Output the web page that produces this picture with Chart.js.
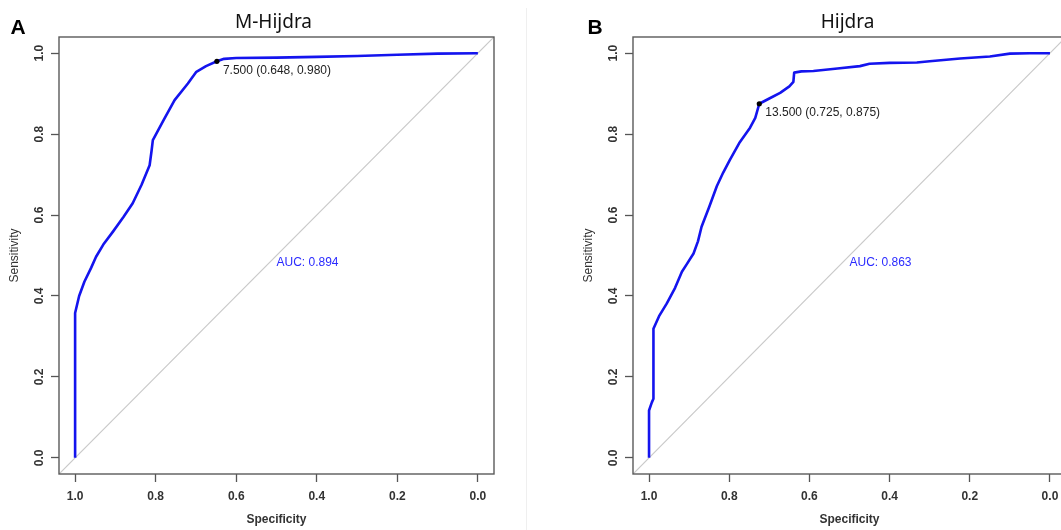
<!DOCTYPE html>
<html><head><meta charset="utf-8">
<script src="https://cdn.jsdelivr.net/npm/chart.js@4.4.1/dist/chart.umd.min.js"></script>
<style>
html,body{margin:0;padding:0;overflow:hidden;background:#fff;width:1061px;height:530px;position:relative;}
#ca{position:absolute;left:0;top:0;}
#cb{position:absolute;left:527px;top:0;}
#sep{position:absolute;left:526px;top:8px;width:1px;height:522px;background:#efefef;}
</style></head><body>
<canvas id="ca" width="527" height="530"></canvas>
<div id="sep"></div>
<canvas id="cb" width="560" height="530"></canvas>
<script>
// ---- data ----
const tickValues = [0, 0.2, 0.4, 0.6, 0.8, 1.0];
const diagSpec = [1.04, -0.04];
const diagSens = [-0.04, 1.04];

const panelLetters = ['A', 'B'];
const panelTitles = ['M-Hijdra', 'Hijdra'];

const specA = [1.0, 1.0, 0.99, 0.977, 0.96, 0.948, 0.93, 0.906, 0.88, 0.857, 0.835, 0.815, 0.81, 0.807, 0.78, 0.753, 0.72, 0.699, 0.675, 0.648, 0.63, 0.6, 0.5, 0.4, 0.3, 0.2, 0.1, 0.0];
const sensA = [0.0, 0.358, 0.40, 0.435, 0.47, 0.497, 0.527, 0.559, 0.595, 0.629, 0.675, 0.723, 0.76, 0.785, 0.835, 0.884, 0.925, 0.954, 0.968, 0.980, 0.986, 0.988, 0.989, 0.991, 0.993, 0.996, 0.999, 1.0];
const thresholdA = [0.648, 0.980];
const thresholdLabelA = '7.500 (0.648, 0.980)';
const aucLabelA = 'AUC: 0.894';

const specB = [1.0, 1.0, 0.993, 0.989, 0.989, 0.975, 0.956, 0.935, 0.918, 0.905, 0.889, 0.878, 0.869, 0.85, 0.831, 0.815, 0.798, 0.775, 0.748, 0.735, 0.725, 0.70, 0.673, 0.65, 0.640, 0.638, 0.62, 0.59, 0.53, 0.474, 0.45, 0.40, 0.332, 0.30, 0.224, 0.15, 0.10, 0.05, 0.0];
const sensB = [0.0, 0.117, 0.137, 0.146, 0.319, 0.35, 0.381, 0.42, 0.460, 0.48, 0.505, 0.535, 0.571, 0.62, 0.671, 0.705, 0.737, 0.778, 0.816, 0.84, 0.875, 0.888, 0.902, 0.918, 0.929, 0.952, 0.955, 0.956, 0.962, 0.968, 0.974, 0.976, 0.977, 0.980, 0.987, 0.992, 0.999, 1.0, 1.0];
const thresholdB = [0.725, 0.875];
const thresholdLabelB = '13.500 (0.725, 0.875)';
const aucLabelB = 'AUC: 0.863';

const aucPos = [0.5, 0.5];

// ---- helpers ----
const pts = (xs, ys) => xs.map((x, i) => ({x: x, y: ys[i]}));

function makePanel(id, spec, sens, thr, thrLabel, aucLabel, letter, title, pad, letterX, titleShift) {
  const decor = {
    id: 'decor' + id,
    afterDraw(chart) {
      const ctx = chart.ctx;
      const a = chart.chartArea;
      const xs = chart.scales.x, ys = chart.scales.y;
      ctx.save();
      // box
      ctx.strokeStyle = '#5a5a5a';
      ctx.lineWidth = 1.4;
      ctx.strokeRect(a.left, a.top, a.right - a.left, a.bottom - a.top);
      // threshold label
      const px = xs.getPixelForValue(thr[0]);
      const py = ys.getPixelForValue(thr[1]);
      ctx.fillStyle = '#222';
      ctx.font = '12px "Liberation Sans", Arial, sans-serif';
      ctx.textAlign = 'left';
      ctx.textBaseline = 'middle';
      ctx.fillText(thrLabel, px + 6, py + 9);
      // AUC
      ctx.fillStyle = '#2a2aff';
      ctx.textBaseline = 'top';
      ctx.fillText(aucLabel, xs.getPixelForValue(aucPos[0]), ys.getPixelForValue(aucPos[1]) + 1);
      // panel letter
      ctx.fillStyle = '#000';
      ctx.font = 'bold 21px "Liberation Sans", Arial, sans-serif';
      ctx.textAlign = 'center';
      ctx.textBaseline = 'middle';
      ctx.fillText(letter, letterX, 28);
      // title
      ctx.font = '19px "Noto Sans", sans-serif';
      ctx.fillStyle = '#111';
      ctx.fillText(title, (a.left + a.right) / 2 + titleShift, 23);
      ctx.restore();
    }
  };
  const tickFont = {family: '"Liberation Sans", Arial, sans-serif', size: 12, weight: 'bold'};
  const titleFont = {family: '"Liberation Sans", Arial, sans-serif', size: 12, weight: 'bold'};
  return new Chart(document.getElementById(id), {
    type: 'scatter',
    data: {
      datasets: [
        {data: pts(diagSpec, diagSens), showLine: true, borderColor: '#c9c9c9', borderWidth: 1.2, pointRadius: 0, order: 3},
        {data: pts(spec, sens), showLine: true, borderColor: '#1414ee', borderWidth: 2.6, pointRadius: 0, tension: 0, borderJoinStyle: 'round', order: 2},
        {data: [{x: thr[0], y: thr[1]}], pointRadius: 2.6, pointBackgroundColor: '#000', pointBorderColor: '#000', pointBorderWidth: 0, order: 1}
      ]
    },
    options: {
      responsive: false,
      animation: false,
      devicePixelRatio: 1,
      layout: {padding: pad},
      plugins: {legend: {display: false}, tooltip: {enabled: false}, title: {display: false}},
      scales: {
        x: {
          type: 'linear', reverse: true, min: -0.04, max: 1.04,
          afterBuildTicks: s => { s.ticks = tickValues.map(v => ({value: v})); },
          afterFit: s => { s.height = 56; },
          grid: {drawOnChartArea: false, drawTicks: true, tickLength: 8, tickColor: '#555', tickWidth: 1.3, color: '#555'},
          border: {display: false},
          ticks: {font: tickFont, color: '#333', padding: 7, autoSkip: false, maxRotation: 0, minRotation: 0, callback: v => Number(v).toFixed(1)},
          title: {display: true, text: 'Specificity', font: titleFont, color: '#333', padding: {top: 0, bottom: 3}}
        },
        y: {
          type: 'linear', min: -0.04, max: 1.04,
          afterBuildTicks: s => { s.ticks = tickValues.map(v => ({value: v})); },
          afterFit: s => { s.width = 55; },
          grid: {drawOnChartArea: false, drawTicks: true, tickLength: 8, tickColor: '#555', tickWidth: 1.3, color: '#555'},
          border: {display: false},
          ticks: {font: tickFont, color: '#333', padding: 3, crossAlign: 'center', autoSkip: false, minRotation: 90, maxRotation: 90, callback: v => Number(v).toFixed(1)},
          title: {display: true, text: 'Sensitivity', font: {family: '"Liberation Sans", Arial, sans-serif', size: 12}, color: '#333', padding: {top: 3, bottom: 0}}
        }
      }
    },
    plugins: [decor]
  });
}

makePanel('ca', specA, sensA, thresholdA, thresholdLabelA, aucLabelA, panelLetters[0], panelTitles[0], {left: 4, right: 33, top: 37, bottom: 0}, 18, -3);
makePanel('cb', specB, sensB, thresholdB, thresholdLabelB, aucLabelB, panelLetters[1], panelTitles[1], {left: 51, right: 21, top: 37, bottom: 0}, 68, -2);
</script>
</body></html>
